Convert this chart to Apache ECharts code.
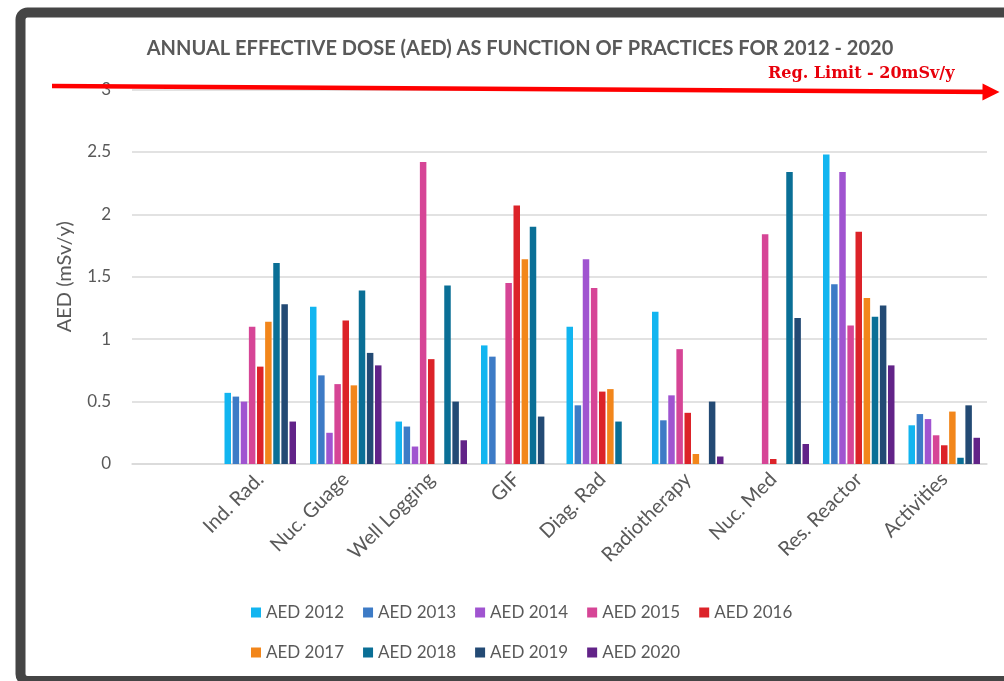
<!DOCTYPE html>
<html lang="en">
<head>
    <meta charset="UTF-8">
    <title>AED by practice</title>
    <script src="https://cdn.jsdelivr.net/npm/echarts@6.0.0/dist/echarts.min.js"></script>
    <style>
        body { margin: 0; background: #fff; }
    </style>
</head>
<body>
    <div id="main" style="width: 1004px;height:681px;"></div>
    <script type="text/javascript">
        // first slot is empty on purpose (the original chart leaves a blank category)
        const practices = ['', 'Ind. Rad.', 'Nuc. Guage', 'Well Logging', 'GIF', 'Diag. Rad',
            'Radiotherapy', 'Nuc. Med', 'Res. Reactor', 'Activities'];

        const aed2012 = [null, 0.57, 1.26, 0.34, 0.95, 1.10, 1.22, 0, 2.48, 0.31];
        const aed2013 = [null, 0.54, 0.71, 0.30, 0.86, 0.47, 0.35, 0, 1.44, 0.40];
        const aed2014 = [null, 0.50, 0.25, 0.14, 0, 1.64, 0.55, 0, 2.34, 0.36];
        const aed2015 = [null, 1.10, 0.64, 2.42, 1.45, 1.41, 0.92, 1.84, 1.11, 0.23];
        const aed2016 = [null, 0.78, 1.15, 0.84, 2.07, 0.58, 0.41, 0.04, 1.86, 0.15];
        const aed2017 = [null, 1.14, 0.63, 0, 1.64, 0.60, 0.08, 0, 1.33, 0.42];
        const aed2018 = [null, 1.61, 1.39, 1.43, 1.90, 0.34, 0, 2.34, 1.18, 0.05];
        const aed2019 = [null, 1.28, 0.89, 0.50, 0.38, 0, 0.50, 1.17, 1.27, 0.47];
        const aed2020 = [null, 0.34, 0.79, 0.19, 0, 0, 0.06, 0.16, 0.79, 0.21];

        const yTicks = [0, 0.5, 1, 1.5, 2, 2.5, 3];
        const regLimitText = 'Reg. Limit - 20mSv/y';

        const seriesList = [
            { name: 'AED 2012', data: aed2012, color: '#12b5f0' },
            { name: 'AED 2013', data: aed2013, color: '#3d7bc6' },
            { name: 'AED 2014', data: aed2014, color: '#a054d0' },
            { name: 'AED 2015', data: aed2015, color: '#d64596' },
            { name: 'AED 2016', data: aed2016, color: '#dc2329' },
            { name: 'AED 2017', data: aed2017, color: '#f2861b' },
            { name: 'AED 2018', data: aed2018, color: '#0a6f96' },
            { name: 'AED 2019', data: aed2019, color: '#234a74' },
            { name: 'AED 2020', data: aed2020, color: '#622388' }
        ];

        const font = 'Lato, "Open Sans", sans-serif';
        const grey = '#595959';

        const series = seriesList.map((s, i) => {
            const out = {
                name: s.name,
                type: 'bar',
                data: s.data,
                barWidth: 6.5,
                barGap: '25%',
                itemStyle: { color: s.color }
            };
            if (i === 0) {
                // regulatory limit arrow, drawn across the top of the plot
                out.markLine = {
                    silent: true,
                    symbol: ['none', 'triangle'],
                    symbolSize: [17, 17],
                    lineStyle: { color: '#ff0000', width: 4.5, type: 'solid' },
                    label: { show: false },
                    data: [[{ x: 52, y: 86 }, { x: 991, y: 92 }]]
                };
            }
            return out;
        });

        const legendStyle = {
            itemWidth: 10,
            itemHeight: 10,
            itemGap: 19,
            icon: 'rect',
            textStyle: { color: grey, fontSize: 17, fontFamily: font }
        };

        let options = {
            backgroundColor: '#fff',
            animation: false,
            title: {
                text: 'ANNUAL EFFECTIVE DOSE (AED) AS FUNCTION OF PRACTICES FOR 2012 - 2020',
                left: 515,
                top: 34,
                textAlign: 'center',
                textStyle: { color: grey, fontSize: 20, fontWeight: 'bold', fontFamily: font }
            },
            legend: [
                Object.assign({ left: 246, top: 599, data: seriesList.slice(0, 5).map(s => s.name) }, legendStyle),
                Object.assign({ left: 246, top: 639, data: seriesList.slice(5).map(s => s.name) }, legendStyle)
            ],
            grid: { left: 132, right: 17, top: 89.5, bottom: 217 },
            xAxis: {
                type: 'category',
                data: practices,
                axisTick: { show: false },
                axisLine: { lineStyle: { color: '#d9d9d9', width: 1.5 } },
                axisLabel: {
                    rotate: 45,
                    interval: 0,
                    margin: 12,
                    color: grey,
                    fontSize: 20,
                    fontFamily: font
                }
            },
            yAxis: {
                type: 'value',
                min: yTicks[0],
                max: yTicks[yTicks.length - 1],
                interval: 0.5,
                name: 'AED (mSv/y)',
                nameLocation: 'middle',
                nameGap: 57,
                nameTextStyle: { color: grey, fontSize: 20, fontFamily: font },
                axisLabel: { color: grey, fontSize: 17, margin: 21, fontFamily: font },
                splitLine: { lineStyle: { color: '#d9d9d9', width: 1.5 } }
            },
            series: series,
            graphic: [
                {
                    type: 'rect',
                    z: 100,
                    silent: true,
                    shape: { x: 20.5, y: 12.5, width: 1010, height: 668.5, r: 7 },
                    style: { fill: 'none', stroke: '#454545', lineWidth: 10 }
                },
                {
                    type: 'text',
                    left: 768,
                    top: 66,
                    style: {
                        text: regLimitText,
                        fill: '#e8000b',
                        font: 'bold 16px "DejaVu Serif", serif'
                    }
                }
            ]
        };

        let myChart = echarts.init(document.getElementById('main'));
        myChart.setOption(options);
    </script>
</body>
</html>
